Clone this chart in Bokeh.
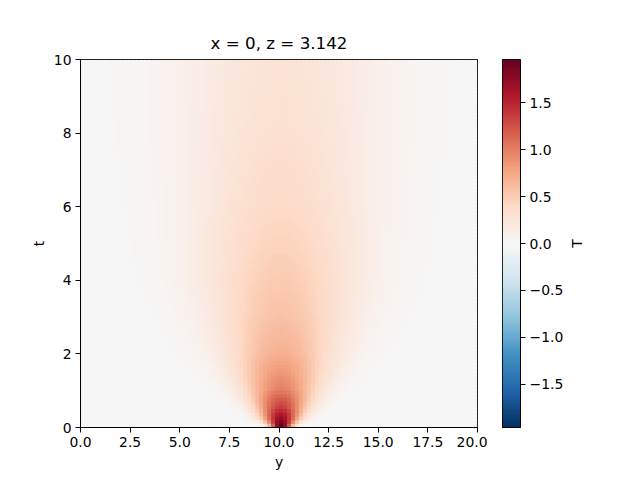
import numpy as np
from bokeh.plotting import figure
from bokeh.models import (ColumnDataSource, LinearColorMapper, FixedTicker,
                          CustomJSTickFormatter, Range1d, Span)
from bokeh.core.properties import value
from bokeh.transform import transform
from bokeh.layouts import row
from bokeh.embed import file_html
from bokeh.resources import INLINE

# ---- data ----
title_text = "x = 0, z = 3.142"
cbar_label = "T"
y_center = 10.0
# times at which the centre value and the spread were read
t_read = [0.0, 0.2, 0.5, 1.0, 2.0, 3.0, 4.0, 6.0, 8.0, 10.0]
peak_read = [1.96, 1.70, 1.35, 0.98, 0.69, 0.57, 0.50, 0.38, 0.31, 0.27]
sigma_read = [0.40, 0.65, 0.90, 1.30, 1.95, 2.40, 2.75, 3.10, 3.40, 3.60]
x_ticks = [0.0, 2.5, 5.0, 7.5, 10.0, 12.5, 15.0, 17.5, 20.0]
t_ticks = [0, 2, 4, 6, 8, 10]
cb_ticks = [-1.5, -1.0, -0.5, 0.0, 0.5, 1.0, 1.5]
vmin, vmax = -1.96, 1.96
y_min, y_max, t_min, t_max = 0.0, 20.0, 0.0, 10.0
dy, dt = 0.2, 0.1
ny, nt = 100, 100

# ---- palette (matplotlib RdBu_r, from its 11 anchors) ----
anchors = ["#053061", "#2166ac", "#4393c3", "#92c5de", "#d1e5f0", "#f7f7f7",
           "#fddbc7", "#f4a582", "#d6604d", "#b2182b", "#67001f"]
rgb = np.array([[int(h[i:i + 2], 16) for i in (1, 3, 5)] for h in anchors], float)
pos = np.linspace(0, 1, len(anchors))
q = np.linspace(0, 1, 256)
pal = ["#%02x%02x%02x" % tuple(int(round(np.interp(v, pos, rgb[:, k]))) for k in range(3)) for v in q]
mapper = LinearColorMapper(palette=pal, low=vmin, high=vmax)

# ---- field table ----
yy = np.arange(ny) * dy
tt = np.arange(nt) * dt
pk = np.interp(tt, t_read, peak_read)
sg = np.interp(tt, t_read, sigma_read)
T = pk[:, None] * np.exp(-(yy[None, :] - y_center) ** 2 / (2 * sg[:, None] ** 2))
Y, TT = np.meshgrid(yy, tt)
# cells overlap their next neighbour slightly (drawn later) so no seams show
src = ColumnDataSource(dict(left=Y.ravel(),
                            right=np.minimum(Y + dy * 1.3, y_max).ravel(),
                            bottom=TT.ravel(),
                            top=np.minimum(TT + dt * 1.3, t_max).ravel(),
                            T=T.ravel()))

FONT = "DejaVu Sans"
FS = "13.9px"


def style_axis(ax):
    ax.axis_line_color = "black"
    ax.axis_line_width = 1
    ax.major_tick_line_color = "black"
    ax.major_tick_out = 5
    ax.major_tick_in = 0
    ax.minor_tick_line_color = None
    ax.major_label_text_font = FONT
    ax.major_label_text_font_size = FS
    ax.major_label_text_color = "black"
    ax.major_label_standoff = 4
    ax.axis_label_text_font = FONT
    ax.axis_label_text_font_size = FS
    ax.axis_label_text_font_style = "normal"
    ax.axis_label_text_color = "black"
    ax.axis_label_standoff = 4


p = figure(frame_width=397, frame_height=368, x_range=Range1d(y_min, y_max),
           y_range=Range1d(t_min, t_max),
           output_backend="svg", toolbar_location=None, title=title_text,
           min_border_left=80, min_border_right=10, min_border_top=59, min_border_bottom=10)
p.quad(left="left", right="right", bottom="bottom", top="top", source=src,
       fill_color=transform("T", mapper), line_color=None)
p.grid.visible = False
p.outline_line_color = "black"
p.outline_line_width = 1
p.add_layout(Span(location=t_max, dimension="width", line_color="black", line_width=1))
p.add_layout(Span(location=y_max, dimension="height", line_color="black", line_width=1))
p.title.align = "center"
p.title.text_font = FONT
p.title.text_font_size = "16.7px"
p.title.text_font_style = "normal"
p.title.text_color = "black"
p.title.standoff = 14
p.xaxis.axis_label = "y"
p.yaxis.axis_label = "t"
p.xaxis.ticker = FixedTicker(ticks=x_ticks)
p.xaxis.formatter = CustomJSTickFormatter(code="return tick.toFixed(1);")
p.yaxis.ticker = FixedTicker(ticks=t_ticks)
style_axis(p.xaxis[0])
style_axis(p.yaxis[0])

# ---- colour bar ----
edges = np.linspace(vmin, vmax, 257)
step = edges[1] - edges[0]
cb_src = ColumnDataSource(dict(bottom=edges[:-1], top=np.minimum(edges[1:] + step * 0.5, vmax),
                               v=(edges[:-1] + edges[1:]) / 2))
cb = figure(frame_width=18, frame_height=368, x_range=Range1d(0, 1), y_range=Range1d(vmin, vmax),
            y_axis_location="right", output_backend="svg", toolbar_location=None,
            min_border_left=15, min_border_right=42, min_border_top=59, min_border_bottom=10)
cb.quad(left=0, right=1, bottom="bottom", top="top", source=cb_src,
        fill_color=transform("v", mapper), line_color=None)
cb.xaxis.visible = False
cb.grid.visible = False
cb.outline_line_color = "black"
cb.outline_line_width = 1
cb.add_layout(Span(location=vmax, dimension="width", line_color="black", line_width=1))
cb.add_layout(Span(location=vmin, dimension="width", line_color="black", line_width=1))
cb.add_layout(Span(location=0, dimension="height", line_color="black", line_width=1))
cb.yaxis.ticker = FixedTicker(ticks=cb_ticks)
cb.yaxis.formatter = CustomJSTickFormatter(
    code="return (tick < 0 ? '\u2212' : '') + Math.abs(tick).toFixed(1);")
style_axis(cb.yaxis[0])

# ---- colour bar label (rotated, reading bottom to top) ----
lab = figure(frame_width=20, frame_height=368, x_range=Range1d(0, 1), y_range=Range1d(vmin, vmax),
             output_backend="svg", toolbar_location=None,
             min_border_left=0, min_border_right=0, min_border_top=59, min_border_bottom=10)
lab.axis.visible = False
lab.grid.visible = False
lab.outline_line_color = None
lab.text(x=[0.5], y=[0.0], text=[cbar_label], angle=np.pi / 2, text_align="center",
         text_baseline="middle", text_font=value(FONT), text_font_size=FS, text_color="black")

layout = row(p, cb, lab, spacing=0)
open("out.html", "w").write(file_html(layout, INLINE))
